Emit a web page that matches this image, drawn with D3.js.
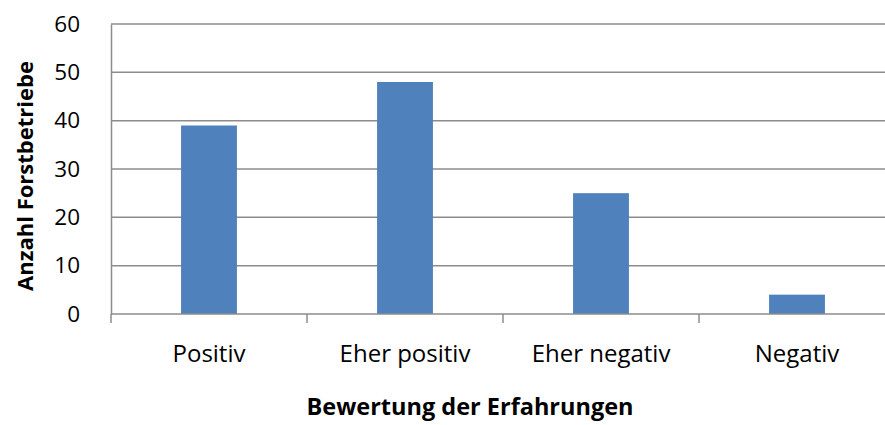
<!DOCTYPE html>
<html>
<head>
<meta charset="utf-8">
<script src="https://cdn.jsdelivr.net/npm/d3@7"></script>
<style>
  body { margin: 0; background: #fff; }
  text { font-family: "Open Sans", "Noto Sans", sans-serif; fill: #000; }
</style>
</head>
<body>
<div id="chart"></div>
<script>
// data
const categories = ["Positiv", "Eher positiv", "Eher negativ", "Negativ"];
const values = [39, 48, 25, 4];
const yTicks = [0, 10, 20, 30, 40, 50, 60];

// set the dimensions and margins of the graph
const margin = {top: 24, right: -10, bottom: 111, left: 111},
      width = 885 - margin.left - margin.right,
      height = 425 - margin.top - margin.bottom;

const svg = d3.select("#chart")
  .append("svg")
    .attr("width", 885)
    .attr("height", 425)
  .append("g")
    .attr("transform", `translate(${margin.left}, ${margin.top})`);

// scales
const x = d3.scaleBand()
  .domain(categories)
  .range([0, width])
  .paddingInner(0.715)
  .paddingOuter(0.3575);

const xOuter = d3.scaleBand()
  .domain(categories)
  .range([0, width]);

const y = d3.scaleLinear()
  .domain([0, 60])
  .range([height, 0]);

// gridlines
svg.append("g")
  .selectAll("line")
  .data(yTicks.filter(d => d > 0))
  .join("line")
    .attr("x1", 0)
    .attr("x2", width)
    .attr("y1", d => y(d))
    .attr("y2", d => y(d))
    .attr("stroke", "#8c8c8c")
    .attr("stroke-width", 1.5);

// bars
svg.selectAll(".bar")
  .data(values)
  .join("rect")
    .attr("class", "bar")
    .attr("x", (d, i) => x(categories[i]))
    .attr("width", x.bandwidth())
    .attr("y", d => y(d))
    .attr("height", d => height - y(d))
    .attr("fill", "#4f81bd");

// y-axis
const yAxis = svg.append("g")
  .call(d3.axisLeft(y).tickValues(yTicks).tickSize(0).tickPadding(31));
yAxis.select(".domain").attr("stroke", "#8c8c8c").attr("stroke-width", 1.5);
yAxis.selectAll("text")
  .style("font-size", "22.5px")
  .style("font-family", "'Open Sans', sans-serif")
  .attr("fill", "#000");

// x-axis
svg.append("line")
  .attr("x1", 0).attr("x2", width)
  .attr("y1", height).attr("y2", height)
  .attr("stroke", "#8c8c8c").attr("stroke-width", 1.5);

svg.append("g")
  .selectAll("line")
  .data(categories)
  .join("line")
    .attr("x1", d => xOuter(d))
    .attr("x2", d => xOuter(d))
    .attr("y1", height)
    .attr("y2", height + 9)
    .attr("stroke", "#8c8c8c")
    .attr("stroke-width", 1.5);

svg.append("g")
  .selectAll("text")
  .data(categories)
  .join("text")
    .attr("x", d => xOuter(d) + xOuter.bandwidth() / 2)
    .attr("y", 362 - margin.top)
    .attr("text-anchor", "middle")
    .style("font-size", "24px")
    .text(d => d);

// axis titles
svg.append("text")
  .attr("x", 470 - margin.left)
  .attr("y", 415 - margin.top)
  .attr("text-anchor", "middle")
  .style("font-size", "23.5px")
  .style("font-weight", "bold")
  .text("Bewertung der Erfahrungen");

svg.append("text")
  .attr("transform", `translate(${33 - margin.left}, ${176 - margin.top}) rotate(-90)`)
  .attr("text-anchor", "middle")
  .style("font-size", "22px")
  .style("font-weight", "bold")
  .text("Anzahl Forstbetriebe");
</script>
</body>
</html>
